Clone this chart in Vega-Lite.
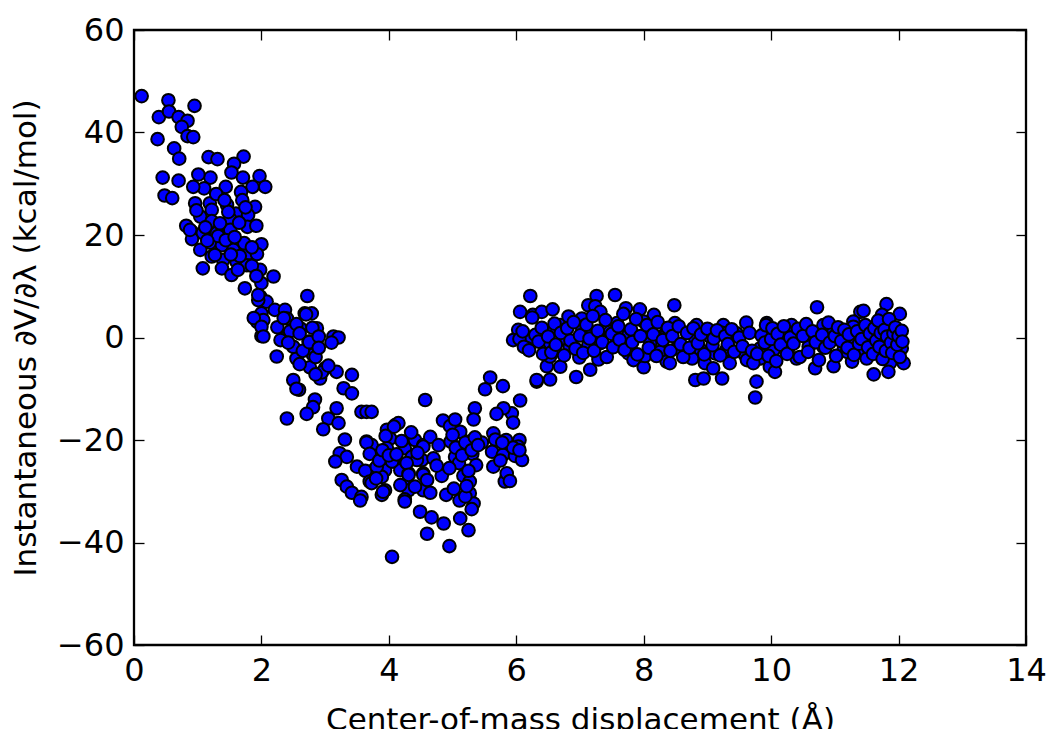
{
  "$schema": "https://vega.github.io/schema/vega-lite/v6.json",
  "width": 892,
  "height": 615,
  "autosize": {"type": "none"},
  "padding": {"left": 134, "top": 30, "right": 24, "bottom": 84},
  "background": "#ffffff",
  "config": {
    "view": {"stroke": "#000000", "strokeWidth": 2.3},
    "axis": {
      "grid": false,
      "domain": false,
      "labelFont": "DejaVu Sans",
      "labelFontSize": 32,
      "labelColor": "#000000",
      "titleFont": "DejaVu Sans",
      "titleFontSize": 31,
      "titleFontWeight": "normal",
      "titleColor": "#000000",
      "tickColor": "#000000",
      "tickWidth": 1.3,
      "tickSize": -10,
      "labelPadding": 20,
      "labelFlush": false,
      "labelOverlap": false
    }
  },
  "data": {
    "values": [
      {"x":0.12,"y":47.1},{"x":0.54,"y":46.3},{"x":0.95,"y":45.2},{"x":0.39,"y":43.0},{"x":0.55,"y":44.1},{"x":0.70,"y":43.0},{"x":0.84,"y":42.3},{"x":0.75,"y":41.1},{"x":0.84,"y":39.3},{"x":0.93,"y":39.1},{"x":0.37,"y":38.7},{"x":0.63,"y":36.9},{"x":0.71,"y":34.9},{"x":1.17,"y":35.2},{"x":1.31,"y":34.8},{"x":1.72,"y":35.3},{"x":1.57,"y":33.9},{"x":1.53,"y":32.2},{"x":1.71,"y":31.2},{"x":1.97,"y":31.5},{"x":2.06,"y":29.4},{"x":1.86,"y":29.4},{"x":1.68,"y":28.4},{"x":1.44,"y":29.4},{"x":1.20,"y":31.2},{"x":1.01,"y":31.8},{"x":1.10,"y":29.1},{"x":0.93,"y":29.4},{"x":0.45,"y":31.2},{"x":0.70,"y":30.6},{"x":0.48,"y":27.7},{"x":0.60,"y":27.2},{"x":0.96,"y":26.2},{"x":1.19,"y":26.2},{"x":1.46,"y":25.9},{"x":1.90,"y":25.5},{"x":1.22,"y":24.9},{"x":1.04,"y":23.6},{"x":1.60,"y":24.2},{"x":1.79,"y":23.9},{"x":1.22,"y":22.7},{"x":1.51,"y":23.1},{"x":0.82,"y":21.8},{"x":0.91,"y":20.6},{"x":1.08,"y":20.4},{"x":1.30,"y":20.4},{"x":1.51,"y":21.0},{"x":1.78,"y":21.6},{"x":0.91,"y":19.2},{"x":1.19,"y":18.5},{"x":1.38,"y":18.0},{"x":1.56,"y":17.1},{"x":1.79,"y":16.4},{"x":2.00,"y":18.2},{"x":1.93,"y":16.3},{"x":1.22,"y":15.8},{"x":1.40,"y":15.1},{"x":1.61,"y":14.8},{"x":1.77,"y":14.1},{"x":1.08,"y":13.5},{"x":1.38,"y":13.5},{"x":1.53,"y":12.2},{"x":1.98,"y":13.2},{"x":2.19,"y":11.9},{"x":1.74,"y":9.6},{"x":2.00,"y":10.6},{"x":1.98,"y":8.0},{"x":2.08,"y":7.0},{"x":2.21,"y":5.4},{"x":2.00,"y":4.7},{"x":2.37,"y":5.4},{"x":2.40,"y":3.7},{"x":1.93,"y":3.1},
      {"x":1.73,"y":18.4},{"x":1.66,"y":15.9},{"x":1.85,"y":14.0},{"x":1.63,"y":13.2},{"x":1.32,"y":19.8},{"x":1.44,"y":19.0},{"x":1.48,"y":24.5},{"x":1.29,"y":28.0},{"x":1.92,"y":21.8},{"x":1.70,"y":26.8},{"x":1.04,"y":17.1},{"x":1.27,"y":16.1},{"x":1.92,"y":12.0},{"x":1.95,"y":7.3},{"x":2.03,"y":3.4},{"x":1.88,"y":3.8},{"x":2.0,"y":0.3},{"x":2.0,"y":2.1},{"x":1.58,"y":19.6},{"x":1.35,"y":22.3},{"x":1.12,"y":21.5},{"x":0.98,"y":24.8},{"x":1.65,"y":22.4},{"x":1.85,"y":17.6},{"x":1.52,"y":16.2},{"x":1.15,"y":18.9},{"x":1.42,"y":26.8},{"x":1.75,"y":25.4},{"x":0.88,"y":21.0},
      {"x":1.95,"y":8.3},{"x":2.72,"y":8.1},{"x":2.61,"y":1.8},{"x":2.79,"y":4.7},{"x":2.68,"y":4.7},{"x":2.87,"y":1.8},{"x":2.37,"y":0.0},{"x":2.03,"y":0.2},{"x":2.74,"y":-0.8},{"x":2.81,"y":-3.4},{"x":3.13,"y":0.2},{"x":3.21,"y":0.0},{"x":2.55,"y":-4.1},{"x":2.24,"y":-3.7},{"x":2.76,"y":-5.8},{"x":3.00,"y":-6.0},{"x":3.18,"y":-6.7},{"x":2.50,"y":-8.3},{"x":2.92,"y":-8.0},{"x":3.42,"y":-7.3},{"x":3.29,"y":-9.9},{"x":3.42,"y":-10.9},{"x":2.59,"y":-10.2},{"x":2.84,"y":-12.1},{"x":2.81,"y":-13.6},{"x":2.71,"y":-14.9},{"x":3.18,"y":-13.8},{"x":3.05,"y":-15.8},{"x":3.21,"y":-16.7},{"x":2.97,"y":-17.9},{"x":2.40,"y":-15.8},{"x":3.57,"y":-14.5},{"x":3.65,"y":-14.5},{"x":4.57,"y":-12.2},{"x":3.31,"y":-19.9},{"x":3.23,"y":-22.6},{"x":3.34,"y":-23.3},{"x":3.16,"y":-24.2},{"x":3.50,"y":-25.2},{"x":3.65,"y":-20.3},{"x":3.73,"y":-21.3},{"x":3.97,"y":-18.0},{"x":4.10,"y":-17.1},{"x":4.15,"y":-16.7},{"x":4.02,"y":-19.7},{"x":3.97,"y":-21.6},{"x":4.25,"y":-21.6},{"x":4.41,"y":-20.0},{"x":4.54,"y":-21.0},{"x":4.36,"y":-23.3},{"x":4.52,"y":-23.9},{"x":4.07,"y":-24.2},{"x":3.76,"y":-25.9},{"x":3.94,"y":-25.9},{"x":3.63,"y":-26.0},{"x":4.18,"y":-25.9},{"x":4.31,"y":-26.5},{"x":4.54,"y":-26.5},{"x":3.89,"y":-27.2},{"x":3.70,"y":-28.1},{"x":3.26,"y":-27.8},{"x":3.34,"y":-29.1},{"x":3.42,"y":-30.3},{"x":3.57,"y":-31.1},{"x":3.55,"y":-31.8},{"x":3.94,"y":-29.8},{"x":3.89,"y":-30.7},{"x":4.23,"y":-28.8},{"x":4.31,"y":-29.8},{"x":4.25,"y":-31.6},{"x":4.49,"y":-34.0},{"x":4.54,"y":-29.8},
      {"x":2.25,"y":2.0},{"x":2.3,"y":-0.5},{"x":2.35,"y":3.8},{"x":2.45,"y":1.2},{"x":2.5,"y":-1.8},{"x":2.55,"y":2.6},{"x":2.6,"y":0.8},{"x":2.65,"y":-2.6},{"x":2.7,"y":4.5},{"x":2.75,"y":-0.9},{"x":2.8,"y":1.9},{"x":2.85,"y":-3.8},{"x":2.9,"y":0.2},{"x":2.95,"y":-6.8},{"x":3.05,"y":-5.5},{"x":2.55,"y":-10.0},{"x":2.85,"y":-7.2},{"x":2.42,"y":-1.0},{"x":2.6,"y":-5.2},{"x":2.9,"y":-2.0},{"x":3.1,"y":-1.0},
      {"x":5.59,"y":-7.8},{"x":5.51,"y":-10.1},{"x":5.79,"y":-9.5},{"x":6.32,"y":-8.6},{"x":6.48,"y":-5.6},{"x":6.06,"y":-12.3},{"x":5.93,"y":-14.8},{"x":5.80,"y":-13.8},{"x":5.69,"y":-14.9},{"x":5.95,"y":-16.6},{"x":5.35,"y":-13.8},{"x":5.33,"y":-16.0},{"x":4.85,"y":-16.2},{"x":4.96,"y":-17.3},{"x":5.04,"y":-16.0},{"x":4.08,"y":-17.4},{"x":3.73,"y":-14.5},{"x":4.65,"y":-19.4},{"x":4.78,"y":-21.0},{"x":4.54,"y":-21.3},{"x":3.73,"y":-21.0},{"x":4.97,"y":-20.3},{"x":5.12,"y":-18.4},{"x":5.27,"y":-20.3},{"x":5.46,"y":-20.5},{"x":5.64,"y":-18.7},{"x":5.67,"y":-19.9},{"x":5.84,"y":-20.0},{"x":6.05,"y":-20.0},{"x":6.03,"y":-21.3},{"x":5.62,"y":-22.3},{"x":5.79,"y":-22.9},{"x":5.98,"y":-23.1},{"x":6.09,"y":-23.9},{"x":5.31,"y":-22.7},{"x":5.04,"y":-23.3},{"x":4.70,"y":-23.6},{"x":4.44,"y":-23.9},{"x":4.28,"y":-24.5},{"x":4.05,"y":-24.2},{"x":3.81,"y":-25.2},{"x":4.31,"y":-26.8},{"x":4.54,"y":-26.8},{"x":4.83,"y":-27.0},{"x":5.17,"y":-27.0},{"x":5.27,"y":-28.1},{"x":5.37,"y":-24.9},{"x":5.64,"y":-25.2},{"x":5.85,"y":-27.3},{"x":5.82,"y":-28.1},{"x":3.73,"y":-28.4},{"x":3.91,"y":-30.1},{"x":4.18,"y":-28.8},{"x":4.41,"y":-29.1},{"x":4.65,"y":-30.3},{"x":4.90,"y":-30.7},{"x":5.11,"y":-31.8},{"x":5.27,"y":-30.4},{"x":5.33,"y":-32.4},{"x":4.25,"y":-32.0},{"x":4.67,"y":-35.1},{"x":4.86,"y":-36.3},{"x":5.12,"y":-35.3},{"x":5.25,"y":-37.6},{"x":4.60,"y":-38.3},{"x":4.95,"y":-40.7},{"x":4.05,"y":-42.8},
      {"x":3.65,"y":-20.5},{"x":3.7,"y":-22.7},{"x":3.8,"y":-27.5},{"x":3.85,"y":-24.0},{"x":3.9,"y":-22.0},{"x":3.95,"y":-19.2},{"x":4.0,"y":-23.0},{"x":5.0,"y":-19.0},{"x":5.05,"y":-21.5},{"x":5.1,"y":-24.5},{"x":5.15,"y":-23.0},{"x":5.2,"y":-20.5},{"x":5.25,"y":-26.0},{"x":5.3,"y":-22.0},{"x":5.35,"y":-19.5},{"x":5.4,"y":-21.0},{"x":4.95,"y":-25.5},{"x":5.02,"y":-29.5},{"x":5.2,"y":-31.0},{"x":5.3,"y":-33.5},{"x":5.22,"y":-29.0},{"x":5.75,"y":-24.0},{"x":5.85,"y":-26.5},{"x":5.9,"y":-28.0},{"x":5.95,"y":-21.5},{"x":6.05,"y":-22.0},{"x":5.78,"y":-20.5},{"x":4.75,"y":-25.0},{"x":4.6,"y":-27.8},{"x":4.45,"y":-22.5},{"x":4.2,"y":-20.2},{"x":4.35,"y":-18.5},{"x":4.12,"y":-22.8},
      {"x":6.22,"y":8.1},{"x":6.06,"y":5.0},{"x":6.26,"y":4.4},{"x":6.4,"y":5.0},{"x":6.57,"y":5.5},{"x":6.03,"y":1.5},{"x":5.95,"y":-0.5},{"x":6.17,"y":-0.5},{"x":6.17,"y":-2.1},{"x":6.37,"y":0.8},{"x":6.56,"y":1.5},{"x":6.69,"y":2.4},{"x":6.82,"y":4.1},{"x":7.03,"y":3.7},{"x":6.53,"y":-1.1},{"x":6.74,"y":-0.4},{"x":6.84,"y":-1.8},{"x":6.53,"y":-3.7},{"x":6.69,"y":-5.7},{"x":6.32,"y":-8.3},{"x":6.53,"y":-8.2},{"x":6.94,"y":-7.7},{"x":7.16,"y":-6.3},{"x":6.99,"y":-3.9},{"x":7.29,"y":-4.3},{"x":7.08,"y":1.1},{"x":7.32,"y":-1.1},{"x":7.13,"y":-1.5},{"x":7.26,"y":8.1},{"x":7.55,"y":8.3},{"x":7.13,"y":6.3},{"x":7.24,"y":6.1},{"x":7.32,"y":5.0},{"x":7.03,"y":2.1},{"x":7.47,"y":1.1},{"x":7.58,"y":2.8},{"x":7.72,"y":5.7},{"x":7.94,"y":5.5},{"x":8.16,"y":4.4},{"x":7.76,"y":0.5},{"x":7.58,"y":-1.1},{"x":7.76,"y":-3.1},{"x":7.84,"y":-4.4},{"x":8.0,"y":-5.8},{"x":8.02,"y":-3.6},{"x":8.1,"y":-1.1},{"x":8.1,"y":1.5},{"x":8.0,"y":3.1},{"x":8.34,"y":0.8},{"x":8.26,"y":-2.8},{"x":8.36,"y":-4.7},
      {"x":8.48,"y":6.3},{"x":8.49,"y":2.8},{"x":8.83,"y":2.4},{"x":9.25,"y":2.4},{"x":9.61,"y":2.9},{"x":9.93,"y":2.8},{"x":10.32,"y":2.4},{"x":10.72,"y":5.9},{"x":10.82,"y":2.4},{"x":11.06,"y":0.9},{"x":11.27,"y":-0.2},{"x":11.4,"y":5.0},{"x":8.34,"y":0.2},{"x":8.52,"y":-2.1},{"x":8.81,"y":-0.2},{"x":9.04,"y":0.2},{"x":9.23,"y":0.9},{"x":9.46,"y":0.8},{"x":9.3,"y":-2.4},{"x":9.12,"y":-3.1},{"x":8.89,"y":-2.4},{"x":8.76,"y":-4.1},{"x":8.41,"y":-5.0},{"x":8.96,"y":-5.0},{"x":9.35,"y":-5.0},{"x":9.09,"y":-6.0},{"x":8.81,"y":-8.3},{"x":8.94,"y":-8.0},{"x":9.23,"y":-8.0},{"x":9.77,"y":-8.6},{"x":9.75,"y":-11.7},{"x":9.59,"y":-3.4},{"x":9.83,"y":-4.1},{"x":9.83,"y":-2.1},{"x":9.98,"y":0.8},{"x":10.04,"y":-2.4},{"x":9.98,"y":-5.7},{"x":10.06,"y":-6.7},{"x":10.27,"y":-2.1},{"x":10.46,"y":1.1},{"x":10.64,"y":-0.5},{"x":10.59,"y":-1.8},{"x":10.4,"y":-4.1},{"x":10.69,"y":-6.0},{"x":10.98,"y":-5.6},{"x":10.82,"y":-1.8},{"x":11.14,"y":-2.4},{"x":10.98,"y":1.1},{"x":11.29,"y":3.1},{"x":11.27,"y":-4.7},{"x":11.19,"y":-2.8},
      {"x":11.45,"y":5.2},{"x":11.81,"y":6.5},{"x":12.02,"y":4.6},{"x":11.74,"y":4.4},{"x":11.71,"y":2.8},{"x":11.9,"y":2.1},{"x":11.29,"y":2.1},{"x":11.58,"y":-0.8},{"x":11.76,"y":0.2},{"x":12.02,"y":-0.5},{"x":12.05,"y":-2.1},{"x":11.79,"y":-2.3},{"x":11.42,"y":-3.0},{"x":11.71,"y":-3.4},{"x":11.5,"y":-4.1},{"x":11.87,"y":-4.9},{"x":12.08,"y":-5.0},{"x":11.84,"y":-6.7},{"x":11.61,"y":-7.2},
      {"x":6.05,"y":-0.3},{"x":6.1,"y":1.2},{"x":6.12,"y":-1.8},{"x":6.2,"y":-2.5},{"x":6.25,"y":3.9},{"x":6.3,"y":0.5},{"x":6.35,"y":-0.8},{"x":6.4,"y":1.9},{"x":6.42,"y":-3.2},{"x":6.5,"y":0.2},{"x":6.55,"y":-2.9},{"x":6.6,"y":2.7},{"x":6.62,"y":-1.4},{"x":6.7,"y":0.9},{"x":6.75,"y":-3.5},{"x":6.8,"y":1.8},{"x":6.85,"y":-0.6},{"x":6.9,"y":3.0},{"x":6.93,"y":-2.2},{"x":7.0,"y":0.4},{"x":7.05,"y":-3.0},{"x":7.1,"y":2.5},{"x":7.15,"y":-0.2},{"x":7.2,"y":4.2},{"x":7.22,"y":-2.6},{"x":7.28,"y":1.3},{"x":7.35,"y":-0.9},{"x":7.4,"y":3.4},{"x":7.42,"y":-3.8},{"x":7.5,"y":0.7},{"x":7.52,"y":-1.9},{"x":7.6,"y":2.2},{"x":7.62,"y":-0.4},{"x":7.68,"y":4.6},{"x":7.7,"y":-2.4},{"x":7.8,"y":1.6},{"x":7.82,"y":-0.9},{"x":7.88,"y":3.6},{"x":7.9,"y":-3.3},{"x":7.95,"y":0.3},{"x":8.05,"y":2.4},{"x":8.08,"y":-2.0},{"x":8.15,"y":0.6},{"x":8.2,"y":-3.6},{"x":8.22,"y":3.0},{"x":8.3,"y":-0.5},{"x":8.38,"y":1.9},{"x":8.42,"y":-2.6},{"x":8.45,"y":0.3},{"x":8.55,"y":2.2},{"x":8.58,"y":-1.3},{"x":8.62,"y":-3.8},{"x":8.68,"y":0.9},{"x":8.72,"y":-2.0},{"x":8.78,"y":1.8},{"x":8.85,"y":-1.1},{"x":8.9,"y":0.6},{"x":8.95,"y":-3.3},{"x":9.0,"y":1.7},{"x":9.08,"y":-1.5},{"x":9.1,"y":-0.2},{"x":9.15,"y":1.4},{"x":9.2,"y":-3.5},{"x":9.28,"y":0.3},{"x":9.32,"y":-1.3},{"x":9.38,"y":1.6},{"x":9.42,"y":-2.8},{"x":9.5,"y":0.0},{"x":9.55,"y":-1.7},{"x":9.62,"y":-4.4},{"x":9.66,"y":0.9},{"x":9.7,"y":-2.6},{"x":9.72,"y":-5.0},{"x":9.78,"y":-3.2},{"x":9.85,"y":0.4},{"x":9.9,"y":-1.0},{"x":9.92,"y":2.4},{"x":9.96,"y":-3.6},{"x":10.0,"y":-0.3},{"x":10.02,"y":1.8},{"x":10.08,"y":-4.6},{"x":10.1,"y":0.7},{"x":10.15,"y":-1.4},{"x":10.2,"y":2.2},{"x":10.25,"y":-3.2},{"x":10.3,"y":0.0},{"x":10.35,"y":-1.2},{"x":10.42,"y":1.7},{"x":10.45,"y":-3.8},{"x":10.5,"y":0.3},{"x":10.55,"y":2.6},{"x":10.58,"y":-2.8},{"x":10.65,"y":1.2},{"x":10.7,"y":-0.9},{"x":10.75,"y":-4.4},{"x":10.8,"y":0.5},{"x":10.85,"y":-2.0},{"x":10.9,"y":2.9},{"x":10.92,"y":-1.0},{"x":11.0,"y":0.3},{"x":11.02,"y":-3.6},{"x":11.05,"y":2.0},{"x":11.1,"y":-0.7},{"x":11.15,"y":1.5},{"x":11.2,"y":-2.0},{"x":11.22,"y":0.6},{"x":11.3,"y":-3.4},{"x":11.35,"y":1.2},{"x":11.38,"y":-1.2},{"x":11.42,"y":-0.3},{"x":11.48,"y":2.4},{"x":11.52,"y":-1.9},{"x":11.55,"y":0.8},{"x":11.6,"y":-3.2},{"x":11.62,"y":1.8},{"x":11.65,"y":-0.6},{"x":11.68,"y":3.3},{"x":11.7,"y":-1.8},{"x":11.72,"y":0.9},{"x":11.75,"y":-4.2},{"x":11.78,"y":1.5},{"x":11.8,"y":-2.6},{"x":11.82,"y":0.2},{"x":11.85,"y":3.6},{"x":11.88,"y":-1.0},{"x":11.9,"y":-3.0},{"x":11.92,"y":0.8},{"x":11.95,"y":2.0},{"x":11.98,"y":-1.4},{"x":12.0,"y":0.3},{"x":12.02,"y":-3.8},{"x":12.05,"y":1.3},{"x":12.06,"y":-0.8}
    ]
  },
  "layer": [
    {
      "mark": {"type": "circle", "size": 160, "fill": "#0000ff", "stroke": "#000000", "strokeWidth": 2, "opacity": 1, "fillOpacity": 1, "strokeOpacity": 1},
      "encoding": {
        "x": {
          "field": "x", "type": "quantitative",
          "scale": {"domain": [0, 14], "nice": false, "zero": false},
          "axis": {"orient": "bottom", "values": [0, 2, 4, 6, 8, 10, 12, 14], "title": "Center-of-mass displacement (Å)", "titlePadding": 19}
        },
        "y": {
          "field": "y", "type": "quantitative",
          "scale": {"domain": [-60, 60], "nice": false, "zero": false},
          "axis": {"orient": "left", "values": [-60, -40, -20, 0, 20, 40, 60], "title": "Instantaneous ∂V/∂λ (kcal/mol)", "titlePadding": 14, "labelBaseline": "middle"}
        }
      }
    },
    {
      "mark": {"type": "circle", "opacity": 0},
      "encoding": {
        "x": {
          "field": "x", "type": "quantitative",
          "scale": {"domain": [0, 14], "nice": false, "zero": false},
          "axis": {"orient": "top", "values": [0, 2, 4, 6, 8, 10, 12, 14], "labels": false, "title": null}
        },
        "y": {
          "field": "y", "type": "quantitative",
          "scale": {"domain": [-60, 60], "nice": false, "zero": false},
          "axis": {"orient": "right", "values": [-60, -40, -20, 0, 20, 40, 60], "labels": false, "title": null}
        }
      }
    }
  ],
  "resolve": {"axis": {"x": "independent", "y": "independent"}}
}
